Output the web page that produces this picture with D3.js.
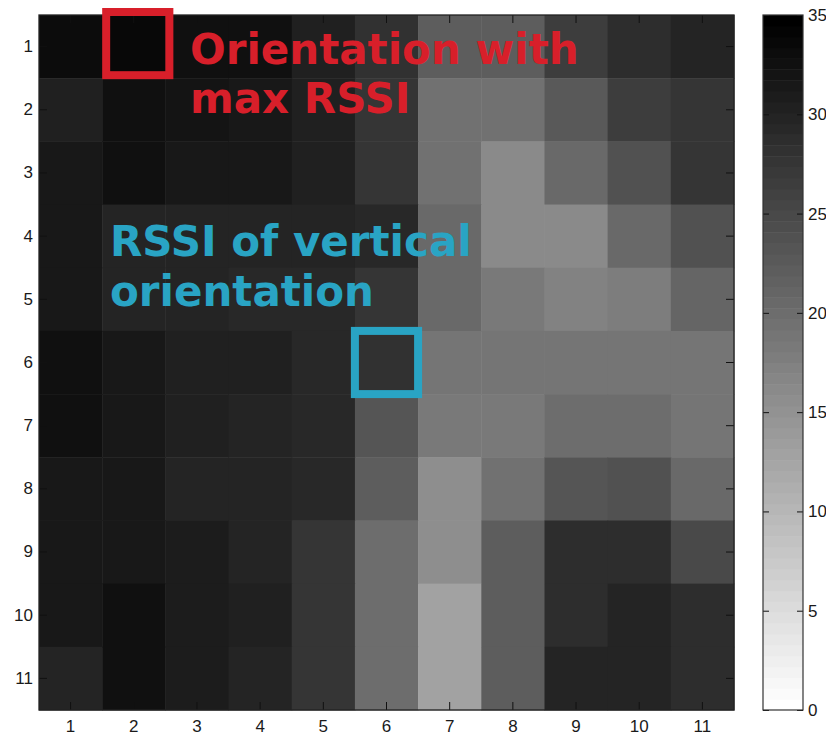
<!DOCTYPE html>
<html>
<head>
<meta charset="utf-8">
<script src="https://cdn.jsdelivr.net/npm/d3@7"></script>
<style>
  html, body { margin: 0; padding: 0; background: #fff; }
  svg { display: block; }
</style>
</head>
<body>
<svg id="chart" width="826" height="735"></svg>
<script>
// Grid positions (1..11 along each direction)
const cols = [1, 2, 3, 4, 5, 6, 7, 8, 9, 10, 11];
const rows = [1, 2, 3, 4, 5, 6, 7, 8, 9, 10, 11];

// RSSI magnitude per cell, one array per row
const row1  = [33.2, 33.6, 32.7, 32.7, 30.3, 28.0, 21.9, 21.9, 26.4, 28.5, 29.8];
const row2  = [30.2, 32.3, 32.0, 31.2, 30.3, 27.5, 19.2, 19.2, 22.6, 26.6, 27.7];
const row3  = [31.4, 32.5, 31.2, 31.2, 30.3, 27.7, 19.4, 16.1, 20.5, 23.7, 27.7];
const row4  = [31.4, 29.9, 29.9, 29.9, 29.7, 29.2, 20.5, 16.1, 16.1, 20.5, 24.0];
const row5  = [31.4, 29.8, 29.8, 29.0, 29.5, 27.7, 20.5, 18.3, 17.4, 17.8, 21.1];
const row6  = [32.3, 31.2, 30.3, 30.3, 29.0, 28.0, 19.1, 19.1, 19.1, 19.1, 19.1];
const row7  = [32.3, 31.2, 30.3, 29.8, 29.0, 23.3, 18.3, 18.3, 19.9, 19.9, 19.1];
const row8  = [31.4, 31.2, 30.0, 29.8, 29.0, 22.1, 15.8, 19.4, 23.5, 24.0, 20.5];
const row9  = [31.2, 31.2, 30.9, 29.8, 27.6, 19.9, 15.4, 22.2, 28.5, 28.5, 25.1];
const row10 = [31.2, 32.3, 30.9, 30.2, 27.6, 19.9, 12.8, 22.2, 28.5, 29.8, 28.5];
const row11 = [29.9, 32.3, 30.9, 29.6, 27.6, 19.9, 12.8, 22.2, 29.6, 29.8, 28.5];
const grid = [row1, row2, row3, row4, row5, row6, row7, row8, row9, row10, row11];

// Colour limits and colorbar ticks
const cmin = 0, cmax = 35;
const colorbarTicks = [0, 5, 10, 15, 20, 25, 30, 35];

// Highlighted cells [column, row]
const maxCell = [2, 1];
const verticalCell = [6, 6];

const svg = d3.select("#chart");

const plot = { left: 39, right: 734, top: 15, bottom: 710 };
const bar = { left: 763, right: 803 };

const x = d3.scaleBand().domain(cols).range([plot.left, plot.right]).padding(0);
const y = d3.scaleBand().domain(rows).range([plot.top, plot.bottom]).padding(0);

// 64-step inverted gray map (white = 0, black = 35)
const nLevels = 64;
const levels = d3.range(nLevels).map(i => {
  const g = Math.round(255 * (1 - i / (nLevels - 1)));
  return d3.rgb(g, g, g).formatHex();
});
const color = d3.scaleQuantize().domain([cmin, cmax]).range(levels);

// Cells
const cells = [];
grid.forEach((r, ri) => r.forEach((v, ci) => cells.push({ c: cols[ci], r: rows[ri], v })));

svg.append("g").selectAll("rect")
  .data(cells)
  .join("rect")
  .attr("x", d => x(d.c))
  .attr("y", d => y(d.r))
  .attr("width", x.bandwidth() + 0.5)
  .attr("height", y.bandwidth() + 0.5)
  .attr("fill", d => color(d.v));

// Axes with inward ticks on all four sides
const tickFont = "'Liberation Sans', Arial, Helvetica, sans-serif";
function styleAxis(g) {
  g.select(".domain").remove();
  g.selectAll(".tick line").attr("stroke", "#111").attr("stroke-width", 1);
  g.selectAll(".tick text").attr("fill", "#1a1a1a").style("font-family", tickFont).style("font-size", "17px");
}

svg.append("g")
  .attr("transform", `translate(0,${plot.bottom})`)
  .call(d3.axisBottom(x).tickSize(-8).tickPadding(10))
  .call(styleAxis);
svg.append("g")
  .attr("transform", `translate(${plot.left},0)`)
  .call(d3.axisLeft(y).tickSize(-8).tickPadding(6))
  .call(styleAxis);
svg.append("g")
  .attr("transform", `translate(0,${plot.top})`)
  .call(d3.axisTop(x).tickSize(-8).tickFormat(""))
  .call(styleAxis);
svg.append("g")
  .attr("transform", `translate(${plot.right},0)`)
  .call(d3.axisRight(y).tickSize(-8).tickFormat(""))
  .call(styleAxis);

svg.append("rect")
  .attr("x", plot.left).attr("y", plot.top)
  .attr("width", plot.right - plot.left).attr("height", plot.bottom - plot.top)
  .attr("fill", "none").attr("stroke", "#222").attr("stroke-width", 1.3);

// Annotation boxes
const boxW = 8;
svg.append("rect")
  .attr("x", x(maxCell[0]) + 4)
  .attr("y", y(maxCell[1]) - 3)
  .attr("width", x.bandwidth())
  .attr("height", y.bandwidth())
  .attr("fill", "none").attr("stroke", "#d81f2a").attr("stroke-width", boxW);

svg.append("rect")
  .attr("x", x(verticalCell[0]))
  .attr("y", y(verticalCell[1]))
  .attr("width", x.bandwidth())
  .attr("height", y.bandwidth())
  .attr("fill", "none").attr("stroke", "#29a4c4").attr("stroke-width", boxW);

// Annotation labels
const noteFont = "'DejaVu Sans', Verdana, sans-serif";
const redNote = svg.append("text")
  .attr("fill", "#d81f2a")
  .style("font-family", noteFont).style("font-weight", "bold").style("font-size", "42px");
redNote.append("tspan").attr("x", 190).attr("y", 64).text("Orientation with");
redNote.append("tspan").attr("x", 190).attr("y", 113).text("max RSSI");

const blueNote = svg.append("text")
  .attr("fill", "#29a4c4")
  .style("font-family", noteFont).style("font-weight", "bold").style("font-size", "42px");
blueNote.append("tspan").attr("x", 110).attr("y", 256).text("RSSI of vertical");
blueNote.append("tspan").attr("x", 110).attr("y", 306).text("orientation");

// Colorbar
const cb = d3.scaleLinear().domain([cmin, cmax]).range([plot.bottom, plot.top]);
const step = (cmax - cmin) / nLevels;
svg.append("g").selectAll("rect")
  .data(d3.range(nLevels))
  .join("rect")
  .attr("x", bar.left)
  .attr("width", bar.right - bar.left)
  .attr("y", i => cb(cmin + (i + 1) * step))
  .attr("height", i => cb(cmin + i * step) - cb(cmin + (i + 1) * step) + 0.5)
  .attr("fill", i => levels[i]);

svg.append("g")
  .attr("transform", `translate(${bar.right},0)`)
  .call(d3.axisRight(cb).tickValues(colorbarTicks).tickSize(-6).tickPadding(5))
  .call(styleAxis);
svg.append("g")
  .attr("transform", `translate(${bar.left},0)`)
  .call(d3.axisLeft(cb).tickValues(colorbarTicks).tickSize(-6).tickFormat(""))
  .call(styleAxis);

svg.append("rect")
  .attr("x", bar.left).attr("y", plot.top)
  .attr("width", bar.right - bar.left).attr("height", plot.bottom - plot.top)
  .attr("fill", "none").attr("stroke", "#333").attr("stroke-width", 1.2);
</script>
</body>
</html>
